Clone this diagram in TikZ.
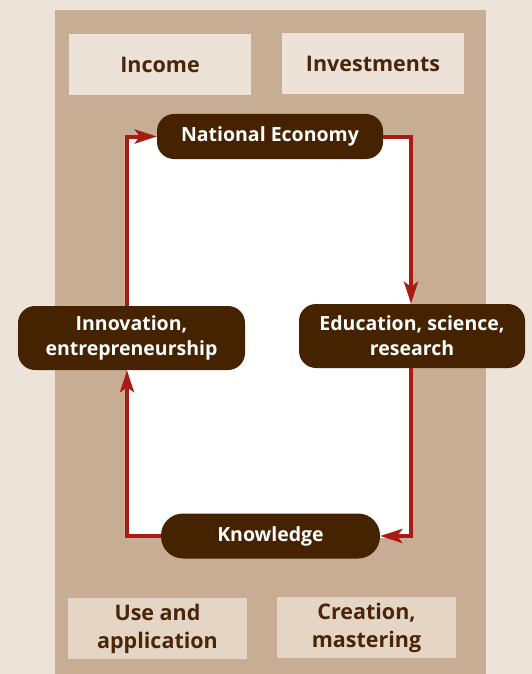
\documentclass[tikz,border=0pt]{standalone}
\usepackage{fontspec}
\setmainfont{Open Sans}
\usetikzlibrary{arrows.meta}
\definecolor{bgc}{HTML}{EDE3D9}
\definecolor{tanc}{HTML}{C8AD95}
\definecolor{lboxa}{HTML}{EDE2D8}
\definecolor{lboxb}{HTML}{E5D5C5}
\definecolor{dbrown}{HTML}{452300}
\definecolor{arrc}{HTML}{A81C14}
\definecolor{txtc}{HTML}{4A2508}
\begin{document}
\begin{tikzpicture}[x=1pt,y=-1pt,
 cyc/.style={fill=dbrown, rounded corners=17pt, text=white, font=\bfseries\fontsize{19.5}{25}\selectfont, align=center, inner sep=0pt},
 laba/.style={fill=lboxa, text=txtc, font=\bfseries\fontsize{21.5}{28}\selectfont, align=center, inner sep=0pt, minimum width=182pt, minimum height=61pt},
 labb/.style={laba, fill=lboxb, minimum width=179pt},
 link/.style={draw=arrc, line width=4pt, -{Stealth[length=22pt,width=14pt,inset=5pt]}}]
\useasboundingbox (0,0) rectangle (532,674);
\fill[bgc] (0,0) rectangle (532,674);
\fill[tanc] (55,10) rectangle (486,674);
\fill[white] (127,137) rectangle (411,538);
\coordinate (L) at (127,0);
\coordinate (R) at (411,0);
\node[laba] (inc) at (160,64.5) {Income};
\node[laba] (inv) at (373,63.5) {Investments};
\node[labb] (use) at (157.5,628.5) {Use and\\application};
\node[labb] (cre) at (366.5,627.5) {Creation,\\mastering};
\node[cyc, minimum width=226pt, minimum height=45pt] (N) at (270,136.5) {National Economy};
\node[cyc, minimum width=227pt, minimum height=64pt] (I) at (131.5,338) {Innovation,\\entrepreneurship};
\node[cyc, minimum width=226pt, minimum height=64pt] (E) at (412,336) {Education, science,\\research};
\node[cyc, rounded corners=22pt, minimum width=219pt, minimum height=45pt] (K) at (270.5,536) {Knowledge};
\draw[link] (K.west) -| (I.south -| L);
\draw[link] (I.north -| L) |- (N.west);
\draw[link] (N.east) -| (E.north -| R);
\draw[link] (E.south -| R) |- (K.east);
\end{tikzpicture}
\end{document}
